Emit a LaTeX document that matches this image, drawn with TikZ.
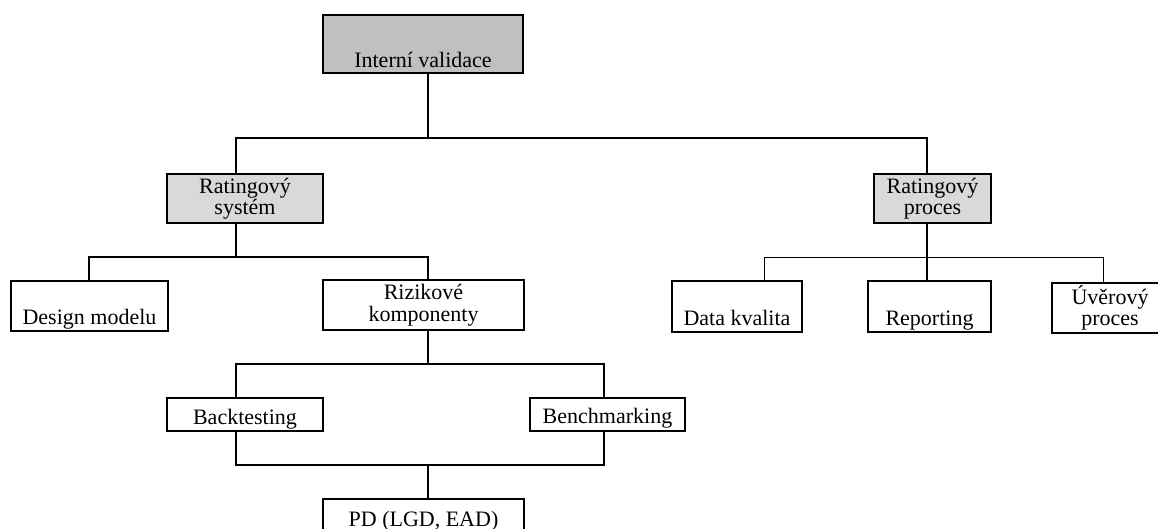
\documentclass[tikz,border=0pt]{standalone}
\usepackage{fontspec}
\setmainfont{Liberation Serif}
\definecolor{darkgr}{HTML}{C0C0C0}
\definecolor{lightgr}{HTML}{D9D9D9}
\begin{document}
\begin{tikzpicture}[x=1pt,y=-1pt,
  box/.style={draw, line width=1.8pt, inner ysep=0pt, inner xsep=2pt,
    font=\fontsize{22}{21.5}\selectfont, align=center},
  conn/.style={line width=1.8pt},
  thinconn/.style={line width=1pt}]
\useasboundingbox (0,0) rectangle (1158,528);
\clip (0,0) rectangle (1158,528);
% nodes
\node[box, fill=darkgr, minimum width=200pt, minimum height=58pt, text height=52pt, text depth=6pt] (iv) at (423,44) {Interní validace};
\node[box, fill=lightgr, minimum width=156pt, minimum height=49pt] (rs) at (245,198.5) {Ratingový\\systém};
\node[box, fill=lightgr, minimum width=117pt, minimum height=49pt] (rp) at (932.5,198.5) {Ratingový\\proces};
\node[box, minimum width=157pt, minimum height=50pt, text height=43pt, text depth=7pt] (dm) at (89.5,306) {Design modelu};
\node[box, minimum width=201pt, minimum height=50pt] (rk) at (423.5,305) {Rizikové\\komponenty};
\node[box, minimum width=130pt, minimum height=51pt, text height=44pt, text depth=7pt] (dk) at (737,306.5) {Data kvalita};
\node[box, minimum width=123pt, minimum height=51pt, text height=44pt, text depth=7pt] (rep) at (929.5,306.5) {Reporting};
\node[box, minimum width=116pt, minimum height=50pt] (uv) at (1110,308) {Úvěrový\\proces};
\node[box, minimum width=156pt, minimum height=33pt, text height=26pt, text depth=7pt] (bt) at (245,414.5) {Backtesting};
\node[box, minimum width=155pt, minimum height=33pt, text height=25pt, text depth=8pt] (bm) at (607.5,414.5) {Benchmarking};
\node[box, minimum width=201pt, minimum height=46pt, text height=27pt, text depth=19pt] (pd) at (423.5,522) {PD (LGD, EAD)};
% junction coordinates
\coordinate (t1) at (428,138);
\coordinate (sL) at (236,138);
\coordinate (sR) at (927,138);
\coordinate (s2) at (236,257);
\coordinate (s2a) at (89,257);
\coordinate (s2b) at (428,257);
\coordinate (p2) at (927,257);
\coordinate (p2a) at (764,257);
\coordinate (p2b) at (1103,257);
\coordinate (k3) at (428,364);
\coordinate (k3a) at (236,364);
\coordinate (k3b) at (604,364);
\coordinate (k4) at (428,465);
\coordinate (k4a) at (236,465);
\coordinate (k4b) at (604,465);
% connectors
\draw[conn] (iv.south -| t1) -- (t1);
\draw[conn] (rs.north -| sL) -- (sL) -- (sR) -- (rp.north -| sR);
\draw[conn] (rs.south -| s2) -- (s2);
\draw[conn] (dm.north -| s2a) -- (s2a) -- (s2b) -- (rk.north -| s2b);
\draw[conn] (rp.south -| p2) -- (rep.north -| p2);
\draw[thinconn] (dk.north -| p2a) -- (p2a) -- (p2b) -- (uv.north -| p2b);
\draw[conn] (rk.south -| k3) -- (k3);
\draw[conn] (bt.north -| k3a) -- (k3a) -- (k3b) -- (bm.north -| k3b);
\draw[conn] (bt.south -| k4a) -- (k4a) -- (k4b) -- (bm.south -| k4b);
\draw[conn] (k4) -- (pd.north -| k4);
\end{tikzpicture}
\end{document}
